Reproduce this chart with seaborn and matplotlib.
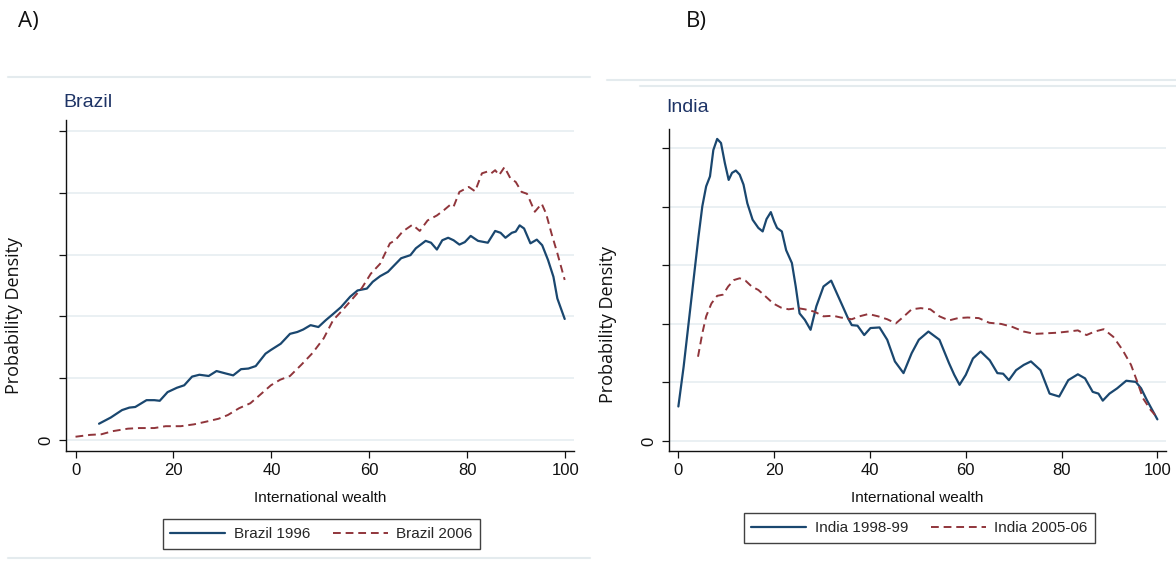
import matplotlib
matplotlib.use("Agg")
import matplotlib.pyplot as plt
from matplotlib import font_manager
from matplotlib.lines import Line2D
import seaborn as sns
import pandas as pd

# ---------------- data (y in grid-step units) ----------------
brazil_1996_x = [4.8, 7.2, 9.5, 11, 12.2, 14.5, 16.1, 17.2, 18.8, 20.7, 22.2, 23.8, 25.3, 27.2, 28.8,
                 30.7, 32.2, 33.8, 35.3, 36.8, 38.8, 39.9, 41.9, 43.8, 45.3, 46.5, 48, 49.6, 51.1, 52.6,
                 54.2, 56.1, 57.6, 59.5, 60.7, 62.2, 63.8, 64.9, 66.5, 68.4, 69.5, 71.5, 72.6, 73.8, 74.9,
                 76.1, 77.2, 78.4, 79.5, 80.7, 82.2, 84.2, 85.7, 86.8, 87.8, 89.1, 89.9, 90.7, 91.6, 92.9,
                 94.2, 95.3, 96.5, 97.6, 98.4, 99.9]
brazil_1996_y = [0.27, 0.37, 0.49, 0.53, 0.54, 0.65, 0.65, 0.64, 0.78, 0.85, 0.89, 1.03, 1.06, 1.04, 1.12,
                 1.08, 1.05, 1.15, 1.16, 1.20, 1.40, 1.46, 1.56, 1.72, 1.75, 1.79, 1.86, 1.83, 1.94, 2.04,
                 2.15, 2.32, 2.42, 2.45, 2.56, 2.65, 2.72, 2.81, 2.94, 2.99, 3.10, 3.22, 3.19, 3.08, 3.23,
                 3.27, 3.23, 3.16, 3.20, 3.30, 3.22, 3.19, 3.38, 3.35, 3.27, 3.35, 3.37, 3.47, 3.42, 3.18,
                 3.24, 3.15, 2.91, 2.64, 2.29, 1.96]

brazil_2006_x = [0, 3, 5.3, 7.6, 10.7, 13, 16.1, 18.4, 21.5, 24.2, 26.5, 29.2, 31.1, 33.4, 35.7, 37.6,
                 39.9, 41.8, 43.8, 46.1, 48.4, 50.7, 52.6, 54.5, 56.5, 58.4, 60.3, 62.2, 64.2, 65.3, 66.8,
                 68.8, 70.3, 71.9, 73.8, 75.3, 76.5, 77.2, 78.4, 80.3, 81.6, 83, 84.2, 84.9, 85.7, 86.5,
                 87.6, 88.8, 89.9, 91.1, 92.2, 93.8, 95.2, 96.1, 97.2, 98.4, 99.9]
brazil_2006_y = [0.06, 0.09, 0.10, 0.15, 0.19, 0.20, 0.20, 0.23, 0.23, 0.26, 0.30, 0.35, 0.41, 0.52, 0.60,
                 0.73, 0.89, 0.98, 1.04, 1.22, 1.41, 1.65, 1.94, 2.10, 2.28, 2.45, 2.69, 2.85, 3.18, 3.23,
                 3.37, 3.48, 3.38, 3.55, 3.63, 3.72, 3.80, 3.77, 4.01, 4.09, 4.02, 4.31, 4.34, 4.31, 4.36,
                 4.28, 4.41, 4.23, 4.17, 4.01, 3.98, 3.69, 3.82, 3.66, 3.34, 3.02, 2.59]

india_1998_x = [0, 1.1, 2.3, 3.4, 4.2, 5.0, 5.8, 6.6, 7.3, 8.1, 8.9, 9.7, 10.5, 11.2, 12, 12.8, 13.6, 14.4,
                15.5, 16.7, 17.6, 18.4, 19.3, 20, 20.6, 21.6, 22.5, 23.7, 24.5, 25.3, 26.4, 27.6, 28.8,
                30.3, 31.9, 33.1, 34.2, 35.4, 36.2, 37.4, 38.8, 40.1, 42, 43.6, 45.2, 47, 48.7, 50.2,
                52.2, 54.5, 56.5, 57.6, 58.7, 60, 61.5, 63.1, 65, 66.6, 67.8, 69, 70.5, 72.1, 73.6, 75.6,
                77.5, 79.5, 81.4, 83.4, 84.9, 86.5, 87.7, 88.6, 90, 91.6, 93.5, 95.5, 96.6, 97.8, 100]
india_1998_y = [0.59, 1.27, 2.13, 2.92, 3.49, 4.01, 4.35, 4.52, 4.97, 5.16, 5.09, 4.75, 4.46, 4.58, 4.62,
                4.55, 4.38, 4.06, 3.78, 3.64, 3.58, 3.79, 3.91, 3.75, 3.64, 3.58, 3.26, 3.04, 2.64, 2.18,
                2.07, 1.90, 2.30, 2.64, 2.74, 2.52, 2.32, 2.10, 1.98, 1.97, 1.81, 1.93, 1.94, 1.73, 1.36,
                1.16, 1.50, 1.73, 1.87, 1.73, 1.33, 1.13, 0.96, 1.13, 1.41, 1.53, 1.38, 1.16, 1.15, 1.04,
                1.21, 1.30, 1.36, 1.21, 0.81, 0.76, 1.04, 1.14, 1.07, 0.84, 0.81, 0.69, 0.81, 0.90, 1.03,
                1.01, 0.90, 0.70, 0.37]

india_2005_x = [4.1, 5, 5.8, 6.9, 8.1, 9.3, 10.4, 11.6, 12.8, 14, 15.3, 16.7, 18.2, 19.8, 21.4, 23, 24.9,
                26.4, 28.4, 30.3, 32.3, 33.9, 36.2, 37.8, 39.7, 41.7, 43.6, 45.4, 47.1, 48.7, 50.6, 52.6,
                54.5, 56.5, 58.4, 60.4, 62.7, 64.9, 67.4, 69.7, 72.1, 74.4, 76.8, 79.1, 81.4, 83.4, 85.2,
                86.9, 88.8, 90.8, 92.7, 94.5, 95.9, 97, 98.6, 100]
india_2005_y = [1.44, 1.84, 2.13, 2.35, 2.48, 2.50, 2.64, 2.75, 2.78, 2.74, 2.64, 2.58, 2.47, 2.35, 2.28,
                2.25, 2.27, 2.25, 2.21, 2.13, 2.14, 2.11, 2.08, 2.13, 2.17, 2.13, 2.08, 2.01, 2.13, 2.25,
                2.27, 2.25, 2.13, 2.06, 2.10, 2.11, 2.10, 2.02, 2.00, 1.95, 1.87, 1.83, 1.84, 1.85, 1.87,
                1.89, 1.81, 1.87, 1.91, 1.78, 1.56, 1.30, 0.99, 0.73, 0.53, 0.40]

x_ticks = [0, 20, 40, 60, 80, 100]
y_ticks = [0, 1, 2, 3, 4, 5]
y_tick_labels = ["0", "", "", "", "", ""]

brazil_labels = ["Brazil 1996", "Brazil 2006"]
india_labels = ["India 1998-99", "India 2005-06"]
panel_titles = ["Brazil", "India"]
panel_letters = ["A)", "B)"]
x_label = "International wealth"
y_label = "Probability Density"

# ---------------- style ----------------
sns.set_theme(style="white")
names = {f.name for f in font_manager.fontManager.ttflist}
narrow = "Liberation Sans Narrow" if "Liberation Sans Narrow" in names else "Liberation Sans"
plt.rcParams["font.family"] = [narrow, "DejaVu Sans"]

NAVY = "#1a476f"
MAROON = "#90353b"
GRID = "#e6eef1"
TITLE_C = "#1e3466"

fig = plt.figure(figsize=(11.76, 5.61), dpi=100)

axA = fig.add_axes([0.0561, 0.1961, 0.4320, 0.5900])
axB = fig.add_axes([0.5689, 0.1961, 0.4226, 0.5740])


def draw(ax, xs1, ys1, xs2, ys2, labels, ylim_top, title, title_pad, legend_xy, ylab_xy):
    d1 = pd.DataFrame({"x": xs1, "y": ys1})
    d2 = pd.DataFrame({"x": xs2, "y": ys2})
    sns.lineplot(data=d1, x="x", y="y", ax=ax, color=NAVY, linewidth=1.6,
                 estimator=None, sort=False)
    sns.lineplot(data=d2, x="x", y="y", ax=ax, color=MAROON, linewidth=1.4,
                 linestyle="--", estimator=None, sort=False)
    ax.lines[1].set_dashes((4, 2.5))
    ax.set_xlim(-1.95, 101.8)
    ax.set_ylim(-0.17, ylim_top)
    ax.set_xticks(x_ticks)
    ax.set_yticks(y_ticks)
    ax.set_yticklabels(y_tick_labels, rotation=90, va="center")
    for yv in y_ticks:
        ax.axhline(yv, color=GRID, linewidth=1.2, zorder=0)
    for s in ["top", "right"]:
        ax.spines[s].set_visible(False)
    for s in ["left", "bottom"]:
        ax.spines[s].set_color("#111111")
        ax.spines[s].set_linewidth(1.0)
    ax.tick_params(axis="both", direction="out", length=5, width=0.9, color="#111111",
                   labelsize=12, pad=4, left=True, bottom=True, labelcolor="#111111")
    ax.set_xlabel(x_label, fontsize=11, labelpad=9, color="#111111")
    ax.set_ylabel(y_label, fontsize=13, family=["Open Sans", "DejaVu Sans"],
                  color="#111111", va="center")
    ax.yaxis.set_label_coords(*ylab_xy)
    ax.set_title(title, loc="left", fontsize=14, color=TITLE_C, pad=title_pad, x=-0.005)
    handles = [Line2D([], [], color=NAVY, linewidth=1.6),
               Line2D([], [], color=MAROON, linewidth=1.4, dashes=(4, 2.5))]
    leg = fig.legend(handles, labels, loc="center", bbox_to_anchor=legend_xy, ncol=2,
                     frameon=True, fancybox=False, edgecolor="#111111", fontsize=11,
                     handlelength=3.6, columnspacing=1.5, handletextpad=0.55,
                     borderpad=0.5, borderaxespad=0)
    leg.get_frame().set_linewidth(1.0)


draw(axA, brazil_1996_x, brazil_1996_y, brazil_2006_x, brazil_2006_y, brazil_labels,
     5.17, panel_titles[0], 9, (0.2734, 0.048), (-0.102, 0.408))
draw(axB, india_1998_x, india_1998_y, india_2005_x, india_2005_y, india_labels,
     5.33, panel_titles[1], 12, (0.7819, 0.0588), (-0.123, 0.394))

# panel letters
fig.text(18 / 1176, 1 - 22 / 561, panel_letters[0], fontsize=16, va="center", ha="left",
         family=["Open Sans", "DejaVu Sans"], color="#111111")
fig.text(686 / 1176, 1 - 22 / 561, panel_letters[1], fontsize=16, va="center", ha="left",
         family=["Open Sans", "DejaVu Sans"], color="#111111")

# faint graph-region borders
for (x0, x1, y) in [(8, 590, 77), (8, 590, 558), (607, 1176, 80), (640, 1176, 86)]:
    fig.add_artist(Line2D([x0 / 1176, x1 / 1176], [1 - y / 561, 1 - y / 561],
                          color="#e4ebee", linewidth=1.5, transform=fig.transFigure))

fig.savefig("out.png", dpi=100, facecolor="white")
